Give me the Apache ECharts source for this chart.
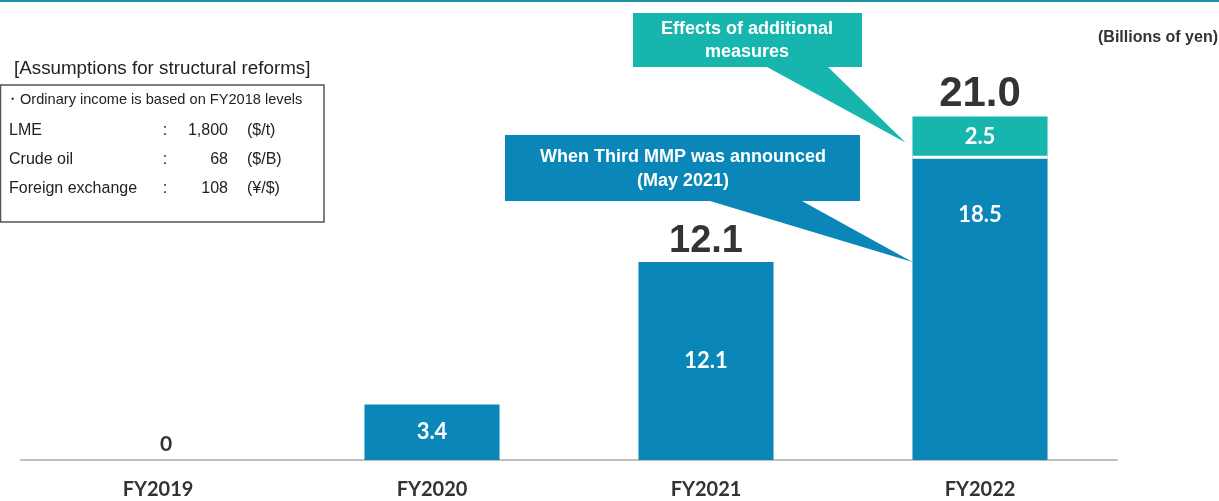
<!DOCTYPE html>
<html><head><meta charset="utf-8">
<script src="https://cdn.jsdelivr.net/npm/echarts@6/dist/echarts.min.js"></script>
<style>html,body{margin:0;padding:0;background:#fff}#c{width:1219px;height:501px}</style>
</head><body><div id="c"></div>
<script>
const categories = ['FY2019', 'FY2020', 'FY2021', 'FY2022'];
const baseValues = [0, 3.4, 12.1, 18.5];
const additionalValues = [null, null, null, 2.5];
const totals = [null, null, 12.1, 21.0];
const unitText = '(Billions of yen)';
const calloutAdditional = 'Effects of additional\nmeasures';
const calloutThird = 'When Third MMP was announced\n(May 2021)';
const assumptionTitle = '[Assumptions for structural reforms]';
const assumptionNote = '・Ordinary income is based on FY2018 levels';
const assumptionNames = ['LME', 'Crude oil', 'Foreign exchange'];
const assumptionValues = ['1,800', '68', '108'];
const assumptionUnits = ['($/t)', '($/B)', '(¥/$)'];

const BLUE = '#0a87b8', TEAL = '#16b5ad';
const ARIAL = 'Arial';
const CAL = 'Lato';

function txt(x, y, text, size, weight, color, align, extra) {
  return Object.assign({ type: 'text', x: x, y: y, style: Object.assign({
    text: text, fill: color, fontFamily: ARIAL, fontSize: size, fontWeight: weight,
    align: align, verticalAlign: 'middle' }, extra || {}) });
}

const chart = echarts.init(document.getElementById('c'));
chart.setOption({
  animation: false,
  grid: { left: 21, right: 102, top: 51, bottom: 41, containLabel: false },
  xAxis: {
    type: 'category', data: categories,
    axisLine: { lineStyle: { color: '#c0c0c0', width: 2 } },
    axisTick: { show: false },
    axisLabel: { fontFamily: CAL, fontWeight: 'bold', fontSize: 20, color: '#333', margin: 20 }
  },
  yAxis: { type: 'value', min: 0, max: 25, show: false, splitLine: { show: false } },
  series: [
    {
      name: 'base', type: 'bar', stack: 't', barWidth: '49.3%',
      itemStyle: { color: BLUE },
      data: baseValues.map((v, i) => {
        const d = { value: v };
        if (i === 0) d.label = { position: 'top', color: '#333', fontSize: 21, distance: 5, offset: [8, 0] };
        if (i === 3) d.label = { position: 'insideTop', distance: 47 };
        return d;
      }),
      label: { show: true, position: 'inside', color: '#fff', fontFamily: CAL, fontWeight: 'bold', fontSize: 22,
        formatter: p => p.value === 0 ? '0' : p.value.toFixed(1) }
    },
    {
      name: 'additional', type: 'bar', stack: 't', barWidth: '49.3%',
      itemStyle: { color: TEAL },
      data: additionalValues,
      label: { show: true, position: 'inside', color: '#fff', fontFamily: CAL, fontWeight: 'bold', fontSize: 22,
        formatter: p => p.value == null ? '' : p.value.toFixed(1) }
    },
    {
      name: 'total', type: 'scatter', symbolSize: 0.1, itemStyle: { color: 'transparent' },
      data: totals.map((v, i) => ({ value: v, label: { fontSize: i === 3 ? 42 : 38 } })),
      label: { show: true, position: 'top', distance: 1, color: '#000', fontFamily: ARIAL, fontWeight: 'bold',
        formatter: p => p.value == null ? '' : p.value.toFixed(1) }
    }
  ]
});

const c3 = chart.convertToPixel({ seriesIndex: 0 }, ['FY2022', baseValues[3]]);
const tipAdd = chart.convertToPixel({ seriesIndex: 0 }, ['FY2022', 19.4]);
const tipThird = chart.convertToPixel({ seriesIndex: 0 }, ['FY2022', totals[2]]);
const half = 67.5;

const rowY = [131, 160, 189];
const g = [
  { type: 'rect', shape: { x: 0, y: 0, width: 1219, height: 2 }, style: { fill: '#1a93a6' } },
  { type: 'rect', shape: { x: c3[0] - half, y: c3[1] - 1.5, width: half * 2, height: 3 }, style: { fill: '#fff' }, z: 10 },
  { type: 'polygon', shape: { points: [[633, 13], [862, 13], [862, 67], [828, 67], [tipAdd[0] - half - 7, tipAdd[1]], [767, 67], [633, 67]] },
    style: { fill: TEAL } },
  txt(747, 41, calloutAdditional, 18, 'bold', '#fff', 'center', { lineHeight: 23 }),
  { type: 'polygon', shape: { points: [[505, 135], [860, 135], [860, 201], [802, 201], [tipThird[0] - half, tipThird[1]], [710, 201], [505, 201]] },
    style: { fill: BLUE } },
  txt(683, 169.5, calloutThird, 18, 'bold', '#fff', 'center', { lineHeight: 24 }),
  txt(1218, 38, unitText, 16, 'bold', '#333', 'right'),
  txt(14, 69, assumptionTitle, 18.8, 'normal', '#222', 'left'),
  { type: 'rect', shape: { x: 0.5, y: 85, width: 323.5, height: 137 }, style: { fill: '#fff', stroke: '#555', lineWidth: 1.5 } },
  txt(5, 100, assumptionNote, 14.6, 'normal', '#222', 'left')
];
assumptionNames.forEach((n, i) => {
  g.push(txt(9, rowY[i], n, 16, 'normal', '#222', 'left'));
  g.push(txt(165, rowY[i], ':', 16, 'normal', '#222', 'center'));
  g.push(txt(228, rowY[i], assumptionValues[i], 16, 'normal', '#222', 'right'));
  g.push(txt(247, rowY[i], assumptionUnits[i], 16, 'normal', '#222', 'left'));
});
chart.setOption({ graphic: g });
</script>
</body></html>
